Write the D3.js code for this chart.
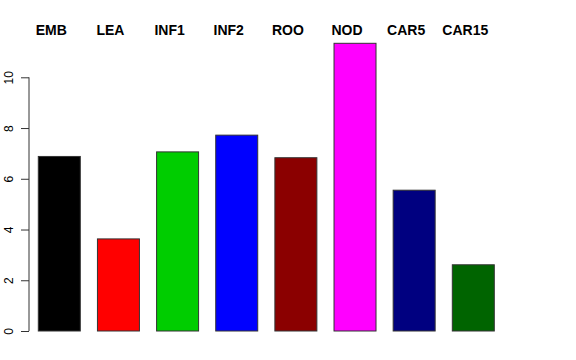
<!DOCTYPE html>
<html>
<head>
<meta charset="utf-8">
<script src="https://cdn.jsdelivr.net/npm/d3@7"></script>
<style>
	body { margin: 0; background: #fff; }
	svg { display: block; }
</style>
</head>
<body>
<script>
	var categories = ["EMB", "LEA", "INF1", "INF2", "ROO", "NOD", "CAR5", "CAR15"];
	var values = [6.88, 3.63, 7.06, 7.72, 6.83, 11.34, 5.55, 2.61];
	var colors = ["#000000", "#ff0000", "#00cd00", "#0000ff", "#8b0000", "#ff00ff", "#000080", "#006400"];
	var yTicks = [0, 2, 4, 6, 8, 10];

	var svg = d3.select("body")
			.append("svg")
			.attr("width", 576)
			.attr("height", 360);

	var x = d3.scaleBand()
			.domain(categories)
			.range([38.3, 494.3])
			.paddingInner(0.29)
			.paddingOuter(0);

	var y = d3.scaleLinear()
			.domain([0, 10])
			.range([331, 77.3]);

	// bars
	svg.selectAll("rect.bar")
			.data(categories)
			.enter()
			.append("rect")
			.attr("class", "bar")
			.attr("x", function(d) { return x(d); })
			.attr("width", x.bandwidth())
			.attr("y", function(d, i) { return y(values[i]); })
			.attr("height", function(d, i) { return y(0) - y(values[i]); })
			.attr("fill", function(d, i) { return colors[i]; })
			.attr("stroke", "#333")
			.attr("stroke-width", 1);

	// labels above the plot
	svg.selectAll("text.lab")
			.data(categories)
			.enter()
			.append("text")
			.attr("class", "lab")
			.attr("x", function(d) { return x(d) + x.bandwidth() / 2 - 8; })
			.attr("y", 35)
			.attr("text-anchor", "middle")
			.attr("font-family", "Liberation Sans, Arial, sans-serif")
			.attr("font-weight", "bold")
			.attr("font-size", 14)
			.text(function(d) { return d; });

	// y axis, R style
	var axis = svg.append("g")
			.attr("transform", "translate(29,0)")
			.call(d3.axisLeft(y).tickValues(yTicks).tickSize(8).tickPadding(0).tickFormat(d3.format("d")));

	axis.select(".domain")
			.attr("d", "M0," + y(10) + "V" + y(0))
			.attr("stroke", "#333");
	axis.selectAll(".tick line").attr("stroke", "#333");
	axis.selectAll(".tick text")
			.attr("x", null)
			.attr("dy", null)
			.attr("transform", "translate(-16.5,0) rotate(-90)")
			.attr("text-anchor", "middle")
			.attr("font-family", "Liberation Sans, Arial, sans-serif")
			.attr("font-size", 12)
			.attr("fill", "#000");
</script>
</body>
</html>
